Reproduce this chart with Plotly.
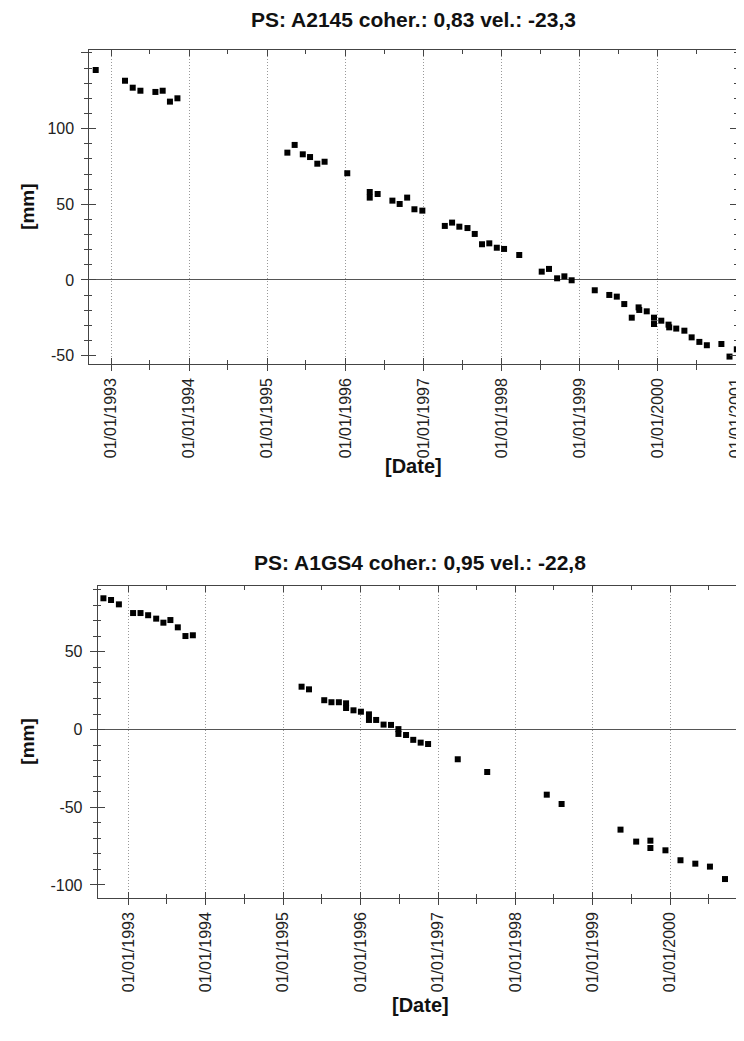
import plotly.graph_objects as go

# ---------------- data ----------------
title_top = "PS: A2145 coher.: 0,83 vel.: -23,3"
dates_top = [
    "1992-10-21", "1993-03-07", "1993-04-12", "1993-05-18", "1993-07-27", "1993-08-30",
    "1993-10-03", "1993-11-07", "1995-04-05", "1995-05-09", "1995-06-16", "1995-07-20",
    "1995-08-23", "1995-09-26", "1996-01-10", "1996-04-24", "1996-04-24", "1996-05-31",
    "1996-08-08", "1996-09-11", "1996-10-16", "1996-11-19", "1996-12-26", "1997-04-10",
    "1997-05-14", "1997-06-17", "1997-07-25", "1997-08-28", "1997-10-01", "1997-11-04",
    "1997-12-09", "1998-01-12", "1998-03-24", "1998-07-07", "1998-08-10", "1998-09-17",
    "1998-10-21", "1998-11-24", "1999-03-12", "1999-05-19", "1999-06-23", "1999-07-28",
    "1999-09-01", "1999-10-03", "1999-10-06", "1999-11-10", "1999-12-14", "1999-12-14",
    "2000-01-17", "2000-02-20", "2000-02-23", "2000-03-27", "2000-05-04", "2000-06-07",
    "2000-07-13", "2000-08-17", "2000-10-24", "2000-12-01", "2001-01-04",
]
mm_top = [
    138.7, 131.6, 127.0, 125.0, 124.2, 125.0,
    117.8, 120.0, 84.1, 89.2, 83.0, 81.2,
    76.8, 78.1, 70.5, 58.1, 54.4, 56.8,
    52.4, 50.2, 54.4, 46.7, 45.8, 35.7,
    37.9, 35.2, 34.3, 30.4, 23.6, 24.2,
    21.3, 20.5, 16.5, 5.5, 7.3, 1.1,
    2.4, -0.2, -6.8, -9.9, -11.0, -15.9,
    -24.9, -18.1, -19.8, -20.7, -24.9, -29.1,
    -26.9, -29.5, -31.3, -32.1, -33.5, -37.9,
    -40.9, -43.1, -42.3, -50.6, -45.8,
]

title_bottom = "PS: A1GS4 coher.: 0,95 vel.: -22,8"
dates_bottom = [
    "1992-09-05", "1992-10-11", "1992-11-17", "1993-01-23", "1993-02-27", "1993-04-04",
    "1993-05-12", "1993-06-15", "1993-07-18", "1993-08-22", "1993-09-27", "1993-11-01",
    "1995-03-29", "1995-05-03", "1995-07-14", "1995-08-17", "1995-09-21", "1995-10-25",
    "1995-10-25", "1995-11-29", "1996-01-03", "1996-02-10", "1996-02-10", "1996-03-15",
    "1996-04-19", "1996-05-24", "1996-06-28", "1996-06-28", "1996-08-03", "1996-09-06",
    "1996-10-11", "1996-11-15", "1997-04-04", "1997-08-21", "1998-05-29", "1998-08-07",
    "1999-05-12", "1999-07-25", "1999-09-30", "1999-09-30", "1999-12-10", "2000-02-19",
    "2000-04-29", "2000-07-07", "2000-09-16", "2000-11-26",
]
mm_bottom = [
    84.5, 83.4, 80.6, 75.0, 75.0, 73.6,
    71.4, 68.8, 70.5, 65.8, 60.2, 60.7,
    27.6, 25.9, 18.9, 17.6, 17.6, 16.9,
    13.9, 12.4, 11.5, 9.8, 6.2, 6.2,
    3.2, 3.0, 0.3, -2.8, -3.5, -6.6,
    -8.4, -9.3, -19.1, -27.3, -41.9, -47.9,
    -64.4, -72.1, -71.5, -76.2, -77.7, -84.1,
    -86.3, -88.2, -96.2, -98.1,
]

ytick_top = [-50, 0, 50, 100, 150]
ytext_top = ["-50", "0", "50", "100", ""]
ytick_bottom = [-100, -50, 0, 50]
ytext_bottom = ["-100", "-50", "0", "50"]

# ---------------- layout geometry ----------------
# the page body adds an 8px margin, so the figure is made smaller and all
# target pixel positions are shifted by that offset (avoids scrollbars)
OFF = 8
W, H = 744 - OFF, 1041 - 2 * OFF - 12
FONT = "Liberation Sans, Arial, sans-serif"
TICKFONT = dict(family=FONT, size=16, color="#222")
AXCOL = "#444"

panels = [
    dict(x0=89.3, x1=737.0, y0=50.0, y1=363.7,
         xr=["1992-09-21", "2001-01-05"], yr=[-55.3, 151.9],
         yt=ytick_top, ytt=ytext_top,
         dates=dates_top, vals=mm_top, title=title_top,
         ty=20, dy=466),
    dict(x0=97.7, x1=743.0, y0=585.7, y1=897.7,
         xr=["1992-08-09", "2000-12-10"], yr=[-108.2, 92.6],
         yt=ytick_bottom, ytt=ytext_bottom,
         dates=dates_bottom, vals=mm_bottom, title=title_bottom,
         ty=562, dy=1005),
]


def px(x):
    return (x - OFF) / W


def py(y):
    return 1 - (y - OFF) / H


fig = go.Figure()
layout = dict(
    width=W, height=H, margin=dict(l=0, r=0, t=0, b=0, autoexpand=False),
    paper_bgcolor="white", plot_bgcolor="white", showlegend=False,
)
annotations = []

for i, p in enumerate(panels):
    n_main = 2 * i + 1
    n_ov = 2 * i + 2
    xm, ym = f"x{'' if n_main == 1 else n_main}", f"y{'' if n_main == 1 else n_main}"
    xo, yo = f"x{n_ov}", f"y{n_ov}"
    xdom = [px(p["x0"]), min(px(p["x1"]), 1.0)]
    ydom = [py(p["y1"]), py(p["y0"])]

    fig.add_trace(go.Scatter(
        x=p["dates"], y=p["vals"], mode="markers", xaxis=xm, yaxis=ym,
        marker=dict(symbol="square", size=6, color="black", line=dict(width=0)),
        cliponaxis=False,
    ))
    # invisible trace on the overlay axes so the inner tick marks are drawn
    fig.add_trace(go.Scatter(x=[p["dates"][0]], y=[p["vals"][0]], mode="markers",
                             xaxis=xo, yaxis=yo, marker=dict(opacity=0),
                             hoverinfo="skip"))

    xcommon = dict(type="date", range=p["xr"], domain=xdom,
                   tickmode="linear", tick0="1993-01-01", dtick="M12")
    ycommon = dict(range=p["yr"], domain=ydom, tickmode="array",
                   tickvals=p["yt"], ticktext=p["ytt"])

    layout[f"xaxis{'' if n_main == 1 else n_main}"] = dict(
        **xcommon, anchor=ym,
        tickformat="%d/%m/%Y", tickangle=-90, tickfont=TICKFONT,
        ticks="outside", ticklen=6, tickwidth=1, tickcolor=AXCOL,
        minor=dict(ticks="outside", ticklen=5, tickcolor=AXCOL, dtick="M6",
                   tick0="1993-01-01", showgrid=False),
        showgrid=True, gridcolor="#999999", griddash="1px,2px", gridwidth=1,
        showline=True, linecolor=AXCOL, linewidth=1, mirror=True,
        zeroline=False, ticklabelstandoff=1, automargin=False,
        ticklabeloverflow="allow",
    )
    layout[f"yaxis{'' if n_main == 1 else n_main}"] = dict(
        **ycommon, anchor=xm, tickfont=TICKFONT,
        ticks="outside", ticklen=7, tickwidth=1, tickcolor=AXCOL,
        minor=dict(ticks="outside", ticklen=4, tickcolor=AXCOL,
                   tickmode="linear", tick0=0, dtick=10, showgrid=False),
        showgrid=False, zeroline=True, zerolinecolor="#555", zerolinewidth=1,
        showline=True, linecolor=AXCOL, linewidth=1, mirror=True,
        ticklabelstandoff=4, automargin=False, ticklabeloverflow="allow",
    )
    layout[f"xaxis{n_ov}"] = dict(
        **xcommon, anchor=yo, overlaying=xm,
        showticklabels=False, ticks="inside", ticklen=6, tickcolor=AXCOL,
        minor=dict(ticks="inside", ticklen=4, tickcolor=AXCOL, dtick="M6",
                   tick0="1993-01-01", showgrid=False),
        showgrid=False, zeroline=False, showline=False, mirror="ticks",
        automargin=False,
    )
    layout[f"yaxis{n_ov}"] = dict(
        **ycommon, anchor=xo, overlaying=ym,
        showticklabels=False, ticks="inside", ticklen=7, tickcolor=AXCOL,
        minor=dict(ticks="inside", ticklen=3, tickcolor=AXCOL,
                   tickmode="linear", tick0=0, dtick=10, showgrid=False),
        showgrid=False, zeroline=False, showline=False, mirror="ticks",
        automargin=False,
    )

    cx = px((p["x0"] + p["x1"]) / 2)
    annotations.append(dict(
        text=f"<b>{p['title']}</b>", x=cx, y=py(p["ty"]), xref="paper", yref="paper",
        xanchor="center", yanchor="middle", showarrow=False,
        font=dict(family=FONT, size=21, color="#111")))
    annotations.append(dict(
        text="<b>[Date]</b>", x=cx, y=py(p["dy"]), xref="paper", yref="paper",
        xanchor="center", yanchor="middle", showarrow=False,
        font=dict(family=FONT, size=20, color="#111")))
    annotations.append(dict(
        text="<b>[mm]</b>", x=px(28), y=py((p["y0"] + p["y1"]) / 2),
        xref="paper", yref="paper", xanchor="center", yanchor="middle",
        showarrow=False, textangle=-90,
        font=dict(family=FONT, size=19, color="#111")))

layout["annotations"] = annotations
fig.update_layout(**layout)
fig.write_html("out.html")
